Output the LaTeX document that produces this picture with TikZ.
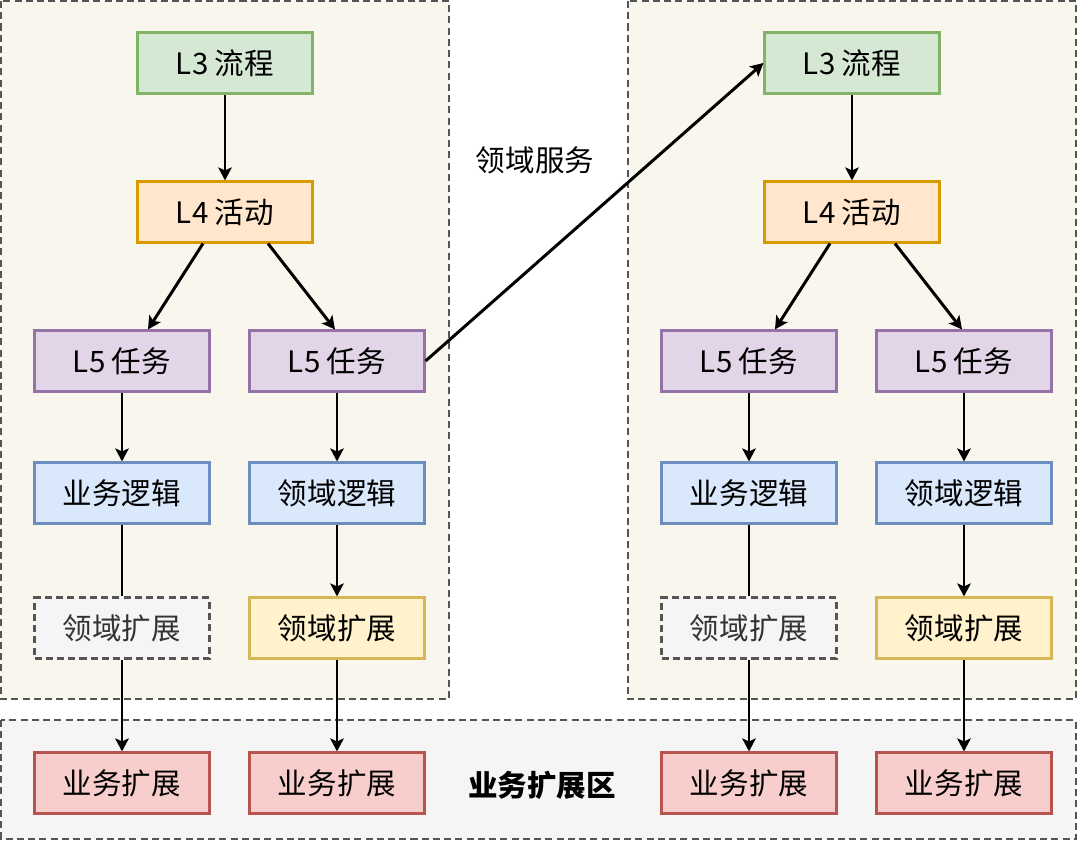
\documentclass[tikz,border=0pt]{standalone}
\usepackage{fontspec}
\setmainfont{Noto Sans CJK SC}
\usetikzlibrary{arrows.meta,calc}
\definecolor{gfill}{HTML}{D5E8D4}\definecolor{gline}{HTML}{82B366}
\definecolor{ofill}{HTML}{FFE6CC}\definecolor{oline}{HTML}{D79B00}
\definecolor{pfill}{HTML}{E1D5E7}\definecolor{pline}{HTML}{9673A6}
\definecolor{bfill}{HTML}{DAE8FC}\definecolor{bline}{HTML}{6C8EBF}
\definecolor{yfill}{HTML}{FFF2CC}\definecolor{yline}{HTML}{D6B656}
\definecolor{rfill}{HTML}{F8CECC}\definecolor{rline}{HTML}{B85450}
\definecolor{kfill}{HTML}{F5F5F5}\definecolor{kline}{HTML}{555555}
\definecolor{cfill}{HTML}{F9F7ED}\definecolor{ktext}{HTML}{333333}
\tikzset{
  box/.style={draw, line width=1.2pt, minimum width=3.5cm, minimum height=1.22cm, inner sep=0pt, font=\fontsize{16.8}{19}\selectfont},
  green/.style={box, fill=gfill, draw=gline},
  orange/.style={box, fill=ofill, draw=oline},
  purple/.style={box, fill=pfill, draw=pline},
  blue/.style={box, fill=bfill, draw=bline},
  yellow/.style={box, fill=yfill, draw=yline},
  red/.style={box, fill=rfill, draw=rline},
  ghost/.style={box, fill=kfill, draw=kline, dash pattern=on 4pt off 2.4pt, text=ktext},
  container/.style={draw=kline, line width=1.5pt, dash pattern=on 4pt off 2.4pt},
  arr/.style={-{Stealth[length=0.26cm,width=0.27cm,inset=0.06cm]}, line width=1.7pt},
  plain/.style={line width=1.7pt},
  lbl/.style={font=\fontsize{16.8}{19}\selectfont, inner sep=0pt}
}
\begin{document}
\begin{tikzpicture}[x=0.02cm, y=-0.02cm]
\useasboundingbox (0,0) rectangle (1080,841);
% containers
\draw[container, fill=cfill] (1,1) rectangle (449,699);
\draw[container, fill=cfill] (628,1) rectangle (1076,699);
\draw[container, fill=kfill] (1,720) rectangle (1076,839);
% left column
\node[green]  (l3a) at (225,63) {L3 流程};
\node[orange] (l4a) at (225,212) {L4 活动};
\node[purple] (l5a) at (122,361) {L5 任务};
\node[purple] (l5b) at (337,361) {L5 任务};
\node[blue]   (bla) at (122,493) {业务逻辑};
\node[blue]   (lla) at (337,493) {领域逻辑};
\node[ghost]  (gea) at (122,628) {领域扩展};
\node[yellow] (yea) at (337,628) {领域扩展};
\node[red]    (r1) at (122,783) {业务扩展};
\node[red]    (r2) at (337,783) {业务扩展};
% right column
\node[green]  (l3c) at (852,63) {L3 流程};
\node[orange] (l4c) at (852,212) {L4 活动};
\node[purple] (l5c) at (749,361) {L5 任务};
\node[purple] (l5d) at (964,361) {L5 任务};
\node[blue]   (blc) at (749,493) {业务逻辑};
\node[blue]   (llc) at (964,493) {领域逻辑};
\node[ghost]  (gec) at (749,628) {领域扩展};
\node[yellow] (yec) at (964,628) {领域扩展};
\node[red]    (r3) at (749,783) {业务扩展};
\node[red]    (r4) at (964,783) {业务扩展};
% labels
\node[lbl] (svc) at (535,160) {领域服务};
\node[lbl, font=\fontsize{16.8}{19}\selectfont\bfseries] (zone) at (542,785) {业务扩展区};
% left arrows
\draw[arr] (l3a) -- (l4a);
\draw[arr] ($(l4a.south)+(-22,0)$) -- ($(l5a.north)+(26,0)$);
\draw[arr] ($(l4a.south)+(43,0)$) -- ($(l5b.north)+(-2,0)$);
\draw[arr] (l5a) -- (bla);
\draw[arr] (l5b) -- (lla);
\draw[plain] (bla) -- (gea);
\draw[arr] (gea) -- (r1);
\draw[arr] (lla) -- (yea);
\draw[arr] (yea) -- (r2);
% right arrows
\draw[arr] (l3c) -- (l4c);
\draw[arr] ($(l4c.south)+(-22,0)$) -- ($(l5c.north)+(26,0)$);
\draw[arr] ($(l4c.south)+(43,0)$) -- ($(l5d.north)+(-2,0)$);
\draw[arr] (l5c) -- (blc);
\draw[arr] (l5d) -- (llc);
\draw[plain] (blc) -- (gec);
\draw[arr] (gec) -- (r3);
\draw[arr] (llc) -- (yec);
\draw[arr] (yec) -- (r4);
% cross arrow
\draw[arr] (l5b.east) -- (l3c.west);
\end{tikzpicture}
\end{document}
